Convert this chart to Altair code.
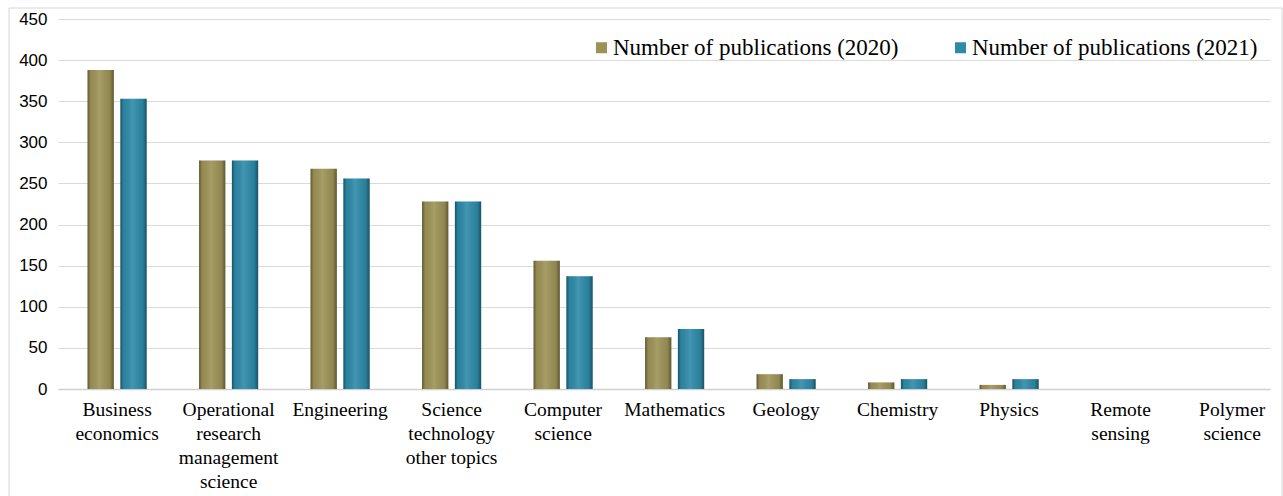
import altair as alt
import pandas as pd

categories = [
    "Business|economics",
    "Operational|research|management|science",
    "Engineering",
    "Science|technology|other topics",
    "Computer|science",
    "Mathematics",
    "Geology",
    "Chemistry",
    "Physics",
    "Remote|sensing",
    "Polymer|science",
]
series = ["Number of publications (2020)", "Number of publications (2021)"]
values_2020 = [388, 278, 268, 228, 156, 63, 18, 8, 5, 0, 0]
values_2021 = [353, 278, 256, 228, 137, 73, 12, 12, 12, 0, 0]
colors = ["#9d9256", "#2d8aa8"]

rows = []
for c, a, b in zip(categories, values_2020, values_2021):
    rows.append({"category": c, "series": series[0], "value": a})
    rows.append({"category": c, "series": series[1], "value": b})
df = pd.DataFrame(rows)
cat_df = pd.DataFrame({"category": categories})

W, H = 1212, 370
PL, PT = 58, 19
SERIF = "Liberation Serif"

x = alt.X(
    "category:N",
    sort=categories,
    scale=alt.Scale(paddingInner=0.47, paddingOuter=0.17, align=0.78),
    axis=alt.Axis(
        title=None,
        labels=False,
        ticks=False,
        domain=True,
        domainColor="#d0d0d0",
        domainWidth=1.5,
        grid=False,
    ),
)
xo = alt.XOffset("series:N", sort=series, scale=alt.Scale(paddingInner=0.2, paddingOuter=0))
y = alt.Y(
    "value:Q",
    scale=alt.Scale(domain=[0, 450], nice=False),
    axis=alt.Axis(
        title=None,
        values=list(range(0, 451, 50)),
        labelFont="Liberation Sans",
        labelFontSize=17,
        labelColor="#000000",
        labelPadding=11,
        ticks=False,
        domain=False,
        gridColor="#dadada",
        gridWidth=1,
    ),
)

bars = alt.Chart(df).mark_bar().encode(
    x=x,
    xOffset=xo,
    y=y,
    color=alt.Color(
        "series:N",
        sort=series,
        scale=alt.Scale(domain=series, range=colors),
        legend=alt.Legend(
            title=None,
            orient="none",
            legendX=528,
            legendY=17,
            direction="horizontal",
            symbolType="square",
            symbolSize=121,
            symbolStrokeWidth=0,
            symbolOffset=4,
            labelFont=SERIF,
            labelFontSize=23,
            labelColor="#000000",
            labelOffset=0,
            columnPadding=46,
            labelLimit=400,
        ),
    ),
)

shade = alt.Chart(df).mark_bar(
    fill=alt.Gradient(
        gradient="linear",
        x1=0, x2=1, y1=0, y2=0,
        stops=[
            alt.GradientStop(offset=0, color="rgba(0,0,0,0.40)"),
            alt.GradientStop(offset=0.12, color="rgba(0,0,0,0.05)"),
            alt.GradientStop(offset=0.45, color="rgba(255,255,255,0.10)"),
            alt.GradientStop(offset=0.85, color="rgba(0,0,0,0.08)"),
            alt.GradientStop(offset=1, color="rgba(0,0,0,0.40)"),
        ],
    )
).encode(x=x, xOffset=xo, y=y)

xlabels = alt.Chart(cat_df).mark_text(
    font=SERIF,
    fontSize=19.5,
    lineHeight=24,
    lineBreak="|",
    align="center",
    baseline="top",
    color="#000000",
).encode(
    x=alt.X("category:N", sort=categories),
    y=alt.value(H + 12),
    text="category:N",
)

frame = alt.Chart(pd.DataFrame({"a": [0]})).mark_rect(
    filled=False, stroke="#d6d6d6", strokeWidth=1
).encode(
    x=alt.value(-49), x2=alt.value(1283 - PL - 1), y=alt.value(-11), y2=alt.value(500)
)

chart = alt.layer(frame, bars, shade, xlabels).properties(
    width=W,
    height=H,
    autosize=alt.AutoSizeParams(type="none"),
    padding={"left": PL, "top": PT, "right": 1283 - PL - W, "bottom": 496 - PT - H},
    background="#ffffff",
).configure_view(stroke=None)

chart.save("out.html", embed_options={"renderer": "svg", "actions": False})
